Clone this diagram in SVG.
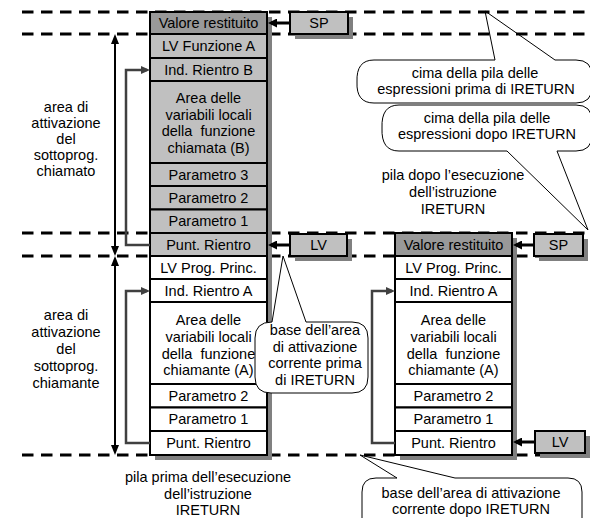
<svg xmlns="http://www.w3.org/2000/svg" width="590" height="518" viewBox="0 0 590 518">
<style>
.t{font-family:"Liberation Sans",Arial,sans-serif;font-size:14.5px;fill:#000;text-anchor:middle;white-space:pre}
.dash{stroke:#000;stroke-width:3;stroke-dasharray:11.5 7.5;fill:none}
.cell{stroke:#000;stroke-width:2}
.dark{fill:#999}
.light{fill:#c0c0c0}
.white{fill:#fff}
.shadow{fill:#808080}
.box{fill:#c0c0c0;stroke:#000;stroke-width:2}
.bubble{fill:#fff;stroke:#000;stroke-width:1}
.ptr{stroke:#000;stroke-width:3;fill:none;marker-end:url(#ahB)}
.ret{stroke:#404040;stroke-width:2.5;fill:none;marker-end:url(#ahG)}
.span{stroke:#000;stroke-width:2;fill:none;marker-start:url(#ahS);marker-end:url(#ahS)}
</style>
<defs>
<marker id="ahB" markerUnits="userSpaceOnUse" viewBox="0 0 9 9" markerWidth="9" markerHeight="9" refX="6" refY="4.5" orient="auto"><path d="M0,0 L9,4.5 L0,9 Z" fill="#000"/></marker>
<marker id="ahG" markerUnits="userSpaceOnUse" viewBox="0 0 9 8" markerWidth="9" markerHeight="8" refX="6" refY="4" orient="auto"><path d="M0,0 L9,4 L0,8 Z" fill="#404040"/></marker>
<marker id="ahS" markerUnits="userSpaceOnUse" viewBox="0 0 10 8" markerWidth="10" markerHeight="8" refX="7" refY="4" orient="auto-start-reverse"><path d="M0,0 L10,4 L0,8 Z" fill="#000"/></marker>
</defs>

<!-- callouts (upper right and bottom) -->
<g id="callout-cima-prima">
<path class="bubble" d="M374,60 L495,60 L485,11 L555,60 L576,60 Q592,60 592,76 L592,87 Q592,103 576,103 L374,103 Q356,103 357,82 Q356,60 374,60 Z"/>
<text class="t" x="475" y="78">cima della pila delle</text>
<text class="t" x="476" y="94">espressioni prima di IRETURN</text>
</g>
<g id="callout-cima-dopo">
<path class="bubble" d="M399,105 L576,105 Q592,105 592,121 L592,135 Q592,151 576,151 L557,151 L588,230 L507,151 L399,151 Q381,151 382,128 Q381,105 399,105 Z"/>
<text class="t" x="487" y="123">cima della pila delle</text>
<text class="t" x="487" y="139">espressioni dopo IRETURN</text>
</g>
<g id="callout-base-dopo">
<path class="bubble" d="M376,478 L397,478 L360,455 L455,478 L568,478 Q582,478 582,492 L582,545 L362,545 L362,492 Q362,478 376,478 Z"/>
<text class="t" x="471" y="498">base dell’area di attivazione</text>
<text class="t" x="471" y="514">corrente dopo IRETURN</text>
</g>

<!-- dashed level lines -->
<g id="levels">
<line class="dash" x1="22" y1="12" x2="590" y2="12"/>
<line class="dash" x1="22" y1="34" x2="590" y2="34"/>
<line class="dash" x1="22" y1="233" x2="585" y2="233"/>
<line class="dash" x1="22" y1="256" x2="585" y2="256"/>
<line class="dash" x1="22" y1="455" x2="585" y2="455"/>
</g>

<!-- left stack (before IRETURN) -->
<g id="stack-before">
<rect class="shadow" x="155" y="17" width="117" height="443"/>
<g id="l-valore"><rect class="cell dark" x="150" y="12" width="117" height="22"/><text class="t" x="208.5" y="28">Valore restituito</text></g>
<g id="l-lvfa"><rect class="cell light" x="150" y="34" width="117" height="24"/><text class="t" x="208.5" y="51">LV Funzione A</text></g>
<g id="l-indB"><rect class="cell light" x="150" y="58" width="117" height="23"/><text class="t" x="208.5" y="74.5">Ind. Rientro B</text></g>
<g id="l-areaB"><rect class="cell light" x="150" y="81" width="117" height="82"/>
<text class="t" x="208.5" y="103">Area delle</text>
<text class="t" x="208.5" y="119.5">variabili locali</text>
<text class="t" x="208.5" y="136">della  funzione</text>
<text class="t" x="208.5" y="153">chiamata (B)</text></g>
<g id="l-par3"><rect class="cell light" x="150" y="163" width="117" height="23"/><text class="t" x="208.5" y="179.5">Parametro 3</text></g>
<g id="l-par2"><rect class="cell light" x="150" y="186" width="117" height="23.5"/><text class="t" x="208.5" y="202.8">Parametro 2</text></g>
<g id="l-par1"><rect class="cell light" x="150" y="209.5" width="117" height="23.5"/><text class="t" x="208.5" y="226.3">Parametro 1</text></g>
<g id="l-punt"><rect class="cell light" x="150" y="233" width="117" height="23"/><text class="t" x="208.5" y="249.5">Punt. Rientro</text></g>
<g id="l-lvpp"><rect class="cell white" x="150" y="256" width="117" height="23"/><text class="t" x="208.5" y="272.5">LV Prog. Princ.</text></g>
<g id="l-indA"><rect class="cell white" x="150" y="279" width="117" height="23"/><text class="t" x="208.5" y="295.5">Ind. Rientro A</text></g>
<g id="l-areaA"><rect class="cell white" x="150" y="302" width="117" height="82"/>
<text class="t" x="208.5" y="325">Area delle</text>
<text class="t" x="208.5" y="342">variabili locali</text>
<text class="t" x="208.5" y="358.5">della  funzione</text>
<text class="t" x="208.5" y="375">chiamante (A)</text></g>
<g id="l-par2a"><rect class="cell white" x="150" y="384" width="117" height="23.5"/><text class="t" x="208.5" y="400.8">Parametro 2</text></g>
<g id="l-par1a"><rect class="cell white" x="150" y="407.5" width="117" height="23.5"/><text class="t" x="208.5" y="424.3">Parametro 1</text></g>
<g id="l-punta"><rect class="cell white" x="150" y="431" width="117" height="24"/><text class="t" x="208.5" y="448">Punt. Rientro</text></g>
</g>

<!-- right stack (after IRETURN) -->
<g id="stack-after">
<rect class="shadow" x="400" y="238" width="117" height="222"/>
<g id="r-valore"><rect class="cell dark" x="395" y="233" width="117" height="23"/><text class="t" x="453.5" y="249.5">Valore restituito</text></g>
<g id="r-lvpp"><rect class="cell white" x="395" y="256" width="117" height="23"/><text class="t" x="453.5" y="272.5">LV Prog. Princ.</text></g>
<g id="r-indA"><rect class="cell white" x="395" y="279" width="117" height="23"/><text class="t" x="453.5" y="295.5">Ind. Rientro A</text></g>
<g id="r-areaA"><rect class="cell white" x="395" y="302" width="117" height="82"/>
<text class="t" x="453.5" y="325">Area delle</text>
<text class="t" x="453.5" y="342">variabili locali</text>
<text class="t" x="453.5" y="358.5">della  funzione</text>
<text class="t" x="453.5" y="375">chiamante (A)</text></g>
<g id="r-par2"><rect class="cell white" x="395" y="384" width="117" height="23.5"/><text class="t" x="453.5" y="400.8">Parametro 2</text></g>
<g id="r-par1"><rect class="cell white" x="395" y="407.5" width="117" height="23.5"/><text class="t" x="453.5" y="424.3">Parametro 1</text></g>
<g id="r-punt"><rect class="cell white" x="395" y="431" width="117" height="24"/><text class="t" x="453.5" y="448">Punt. Rientro</text></g>
</g>

<!-- middle callout drawn over the left stack -->
<g id="callout-base-prima">
<path class="bubble" d="M272,322 L283,256 L306,322 L352,322 Q368,322 368,338 L368,377 Q368,393 352,393 L271,393 Q255,393 255,377 L255,338 Q255,322 272,322 Z"/>
<text class="t" x="315" y="335">base dell’area</text>
<text class="t" x="315" y="352">di attivazione</text>
<text class="t" x="315" y="368">corrente prima</text>
<text class="t" x="315" y="385">di IRETURN</text>
</g>

<!-- registers -->
<g id="sp-before"><rect class="shadow" x="295" y="17" width="58" height="22"/><rect class="box" x="290" y="12" width="58" height="22"/><text class="t" x="319" y="28">SP</text></g>
<g id="lv-before"><rect class="shadow" x="295" y="239" width="57" height="22"/><rect class="box" x="290" y="234" width="57" height="22"/><text class="t" x="318.5" y="250">LV</text></g>
<g id="sp-after"><rect class="shadow" x="539" y="239" width="49" height="22"/><rect class="box" x="534" y="234" width="49" height="22"/><text class="t" x="558.5" y="250">SP</text></g>
<g id="lv-after"><rect class="shadow" x="540" y="436" width="50" height="22"/><rect class="box" x="535" y="431" width="50" height="22"/><text class="t" x="560" y="447">LV</text></g>

<!-- connectors -->
<g id="connectors">
<path class="ptr" d="M290,23 H271"/>
<path class="ptr" d="M290,245 H271"/>
<path class="ptr" d="M534,245 H516"/>
<path class="ptr" d="M535,442 H516"/>
<path class="ret" d="M150,245 H126 V70 H147"/>
<path class="ret" d="M150,443 H126 V291 H147"/>
<path class="ret" d="M395,443 H372 V291 H392"/>
<path class="span" d="M115,37 V253"/>
<path class="span" d="M115,259 V452"/>
</g>

<!-- free labels -->
<g id="label-chiamato">
<text class="t" x="66" y="112">area di</text>
<text class="t" x="66" y="128">attivazione</text>
<text class="t" x="66" y="144">del</text>
<text class="t" x="66" y="160">sottoprog.</text>
<text class="t" x="66" y="176">chiamato</text>
</g>
<g id="label-chiamante">
<text class="t" x="66" y="320">area di</text>
<text class="t" x="66" y="337">attivazione</text>
<text class="t" x="66" y="354">del</text>
<text class="t" x="66" y="371">sottoprog.</text>
<text class="t" x="66" y="388">chiamante</text>
</g>
<g id="label-prima">
<text class="t" x="208" y="482">pila prima dell’esecuzione</text>
<text class="t" x="208" y="499">dell’istruzione</text>
<text class="t" x="208" y="515">IRETURN</text>
</g>
<g id="label-dopo">
<text class="t" x="453" y="180">pila dopo l’esecuzione</text>
<text class="t" x="453" y="197">dell’istruzione</text>
<text class="t" x="453" y="214">IRETURN</text>
</g>
</svg>
